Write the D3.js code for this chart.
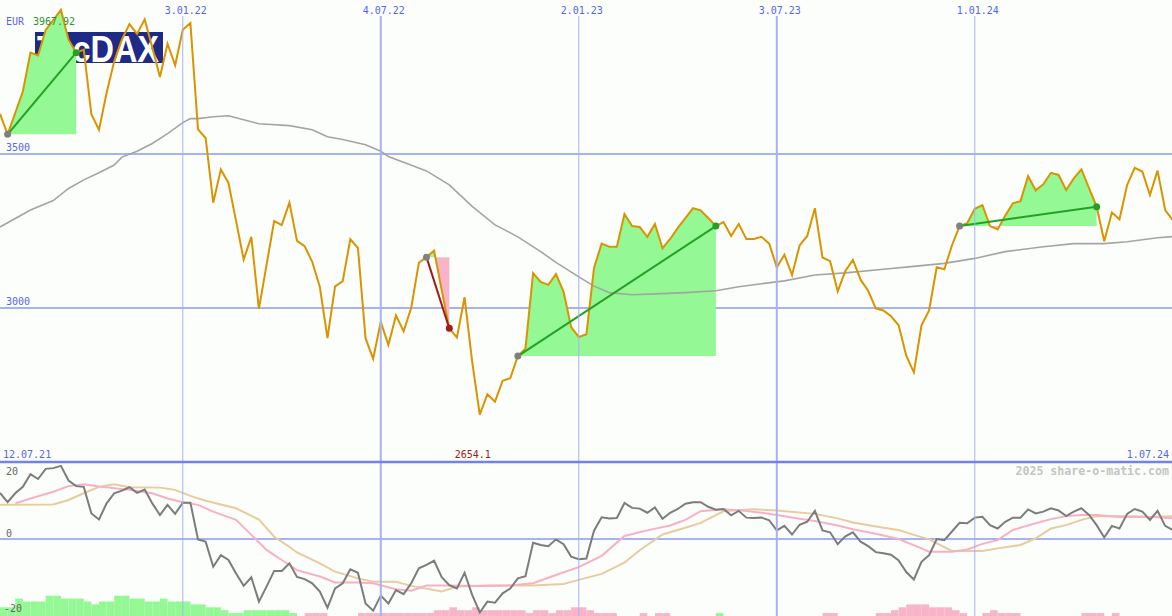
<!DOCTYPE html>
<html><head><meta charset="utf-8">
<script src="https://cdn.jsdelivr.net/npm/d3@7"></script>
<style>html,body{margin:0;padding:0;background:#fcfefc;} svg{display:block;}</style>
</head><body><svg id="c" width="1172" height="616"></svg>
<script>
// ---------- data ----------
const startDate = "2021-07-19";   // first weekly point
const endDate = "2024-07-01";
const price = [3630,3564,3633,3703,3829,3820,3903,3935,3967.92,3871,
 3829,3839,3629,3578,3699,3801,3871,3922,3890,3937,
 3846,3750,3858,3788,3903,3925,3580,3552,3342,3450,
 3406,3282,3157,3231,2997,3140,3282,3269,3342,3218,
 3201,3150,3068,2902,3070,3087,3223,3195,2902,2835,
 2955,2880,2976,2924,3001,3147,3165,3186,3058,2934,
 2904,3035,2826,2654.1,2720,2696,2764,2772,2844,2869,
 3113,3085,3075,3110,3053,2938,2906,2915,3130,3209,
 3199,3199,3305,3266,3263,3231,3273,3194,3224,3260,
 3292,3324,3317,3292,3266,3279,3234,3273,3224,3224,
 3231,3209,3132,3173,3107,3203,3234,3324,3164,3152,
 3054,3120,3156,3092,3056,2999,2992,2973,2944,2845,
 2791,2944,2992,3132,3126,3203,3266,3275,3322,3334,
 3266,3255,3300,3340,3347,3428,3382,3402,3439,3432,
 3383,3421,3450,3389,3329,3217,3310,3288,3399,3455,
 3443,3367,3446,3318,3285];
const maWeeks = [0,4,7,9,11,13,15,16,18,20,22,24,25,26,28,30,32,34,38,41,43,45,48,50,51,56,59,62,65,68,71,73,76,78,80,83,86,90,94,97,100,103,107,111,116,120,124,128,132,137,141,145,148,152,154];
const maValues = [3263,3318,3349,3388,3416,3439,3464,3490,3509,3534,3566,3602,3615,3615,3621,3624,3611,3598,3592,3579,3556,3547,3530,3509,3492,3445,3400,3330,3270,3231,3183,3148,3101,3071,3050,3043,3046,3050,3056,3069,3079,3088,3107,3114,3126,3135,3145,3161,3183,3199,3209,3209,3215,3228,3232];
const oscValues = [12.3,9.8,12.2,13.9,17.3,16.0,18.7,18.9,19.5,15.6,
 14.1,13.9,6.8,5.2,9.5,12.2,12.9,13.8,12.3,13.2,
 9.5,6.4,9.1,6.7,9.7,9.7,-0.1,-0.7,-7.4,-4.3,
 -5.6,-9.2,-12.5,-10.2,-16.7,-12.7,-8.5,-8.5,-6.5,-10.1,
 -10.7,-11.8,-14.0,-18.3,-13.2,-11.8,-8.1,-9.0,-17.2,-19.1,
 -15.1,-17.2,-13.6,-14.7,-11.8,-7.8,-6.9,-5.8,-10.2,-12.3,
 -13.2,-9.0,-14.9,-19.6,-16.7,-17.0,-14.5,-13.2,-10.5,-9.9,
 -1.0,-1.6,-1.9,-0.1,-1.4,-4.7,-5.4,-5.2,2.2,5.8,
 5.5,5.6,9.6,8.3,8.1,7.0,8.4,5.4,7.0,8.0,
 9.4,9.8,9.8,8.6,7.8,8.0,6.3,7.5,5.7,5.6,
 5.7,5.0,2.3,3.5,1.2,3.8,4.6,7.5,2.3,1.8,
 -1.4,0.7,1.8,-0.7,-1.9,-3.5,-3.8,-4.2,-5.7,-8.8,
 -10.8,-6.1,-4.3,0.0,-0.3,2.0,4.3,4.2,5.7,5.9,
 3.7,2.8,4.6,5.7,5.7,7.9,6.8,7.3,8.2,7.6,
 6.1,7.3,8.2,6.4,3.7,0.4,3.5,2.8,6.7,8.0,
 7.3,5.1,7.5,3.5,2.4];
const pinkWeeks = [2,4,7,9,11,13,17,20,22,24,26,28,31,33,35,37,39,42,44,47,49,52,54,56,59,63,67,70,73,76,79,82,85,88,90,92,95,97,100,102,105,107,110,112,115,118,121,122,125,127,129,131,133,136,138,140,142,144,147,151,154];
const pinkValues = [9.5,10.8,12.6,14.1,14.6,14.0,13.1,12.2,10.8,9.8,9.1,7.3,5.1,1.1,-2.9,-5.6,-8.3,-10.0,-11.6,-11.6,-11.8,-13.4,-13.8,-12.4,-12.4,-12.5,-12.4,-11.8,-9.6,-7.5,-4.5,0.8,2.3,3.6,5.1,7.4,7.9,7.7,7.0,6.4,5.4,4.8,3.6,2.6,1.4,0.0,-2.5,-3.4,-3.4,-2.8,-1.3,-0.3,2.4,4.2,5.3,6.1,6.4,6.4,5.9,5.9,5.5];
const tanWeeks = [0,7,9,11,13,15,17,21,23,25,27,31,34,36,38,39,42,44,47,49,52,54,58,60,64,70,74,76,79,82,84,87,90,92,95,97,99,102,107,110,112,116,118,120,122,125,129,131,134,136,138,140,142,144,147,149,151,154];
const tanValues = [9.1,9.2,10.4,12.2,13.9,14.6,13.8,13.7,13.1,11.5,10.2,8.2,5.2,0.6,-2.1,-3.6,-6.5,-8.7,-10.5,-11.4,-11.4,-12.5,-14.0,-12.7,-12.4,-12.4,-12.0,-10.9,-9.3,-6.3,-3.0,1.2,3.0,4.3,7.4,7.7,7.9,7.6,6.7,5.5,4.4,3.0,2.4,1.1,-0.1,-3.2,-3.2,-2.5,-1.6,0.2,2.8,3.7,5.1,6.1,6.1,6.1,5.9,6.1];
const barValues = [3,3,6,5,5,5,7,7,6,6, 6,5,4,5,5,7,7,6,6,5, 5,6,5,5,5,4,4,3,3,2,
 1,1,2,2,2,2,2,2,1,0, -1,-1,-1,0,0,0,0,-1,-1,-1, -1,-1,-1,-1,-1,-1,-1,-2,-2,-3,
 -2,-2,-3,-2,-2,-2,-2,-2,-2,-1, -2,-2,-1,-2,-2,-3,-3,-2,-1,-1, -1,0,0,0,-1,0,-1,-1,0,0,
 0,0,0,0,1,0,0,0,0,0, 0,0,0,0,0,0,0,0,-1,-1, 0,0,0,0,0,-1,-1,-2,-3,-4,
 -4,-4,-3,-3,-3,-2,-1,0,0,-1, -2,-1,-1,-1,0,0,0,0,0,0, 0,0,-1,-1,-1,0,-1,0,0,0, 0,0,0,0,0];
const dateTickLabels = ["3.01.22","4.07.22","2.01.23","3.07.23","1.01.24"];
const dateTickDates = ["2022-01-03","2022-07-04","2023-01-02","2023-07-03","2024-01-01"];
const dateTickMajor = [false,true,false,true,false];
const priceTicks = [3500,3000];
const oscTicks = [20,0,-20];
const trendStart = ["2021-07-26","2022-08-15","2022-11-07","2023-12-18"];
const trendEnd   = ["2021-09-27","2022-09-05","2023-05-08","2024-04-22"];
const rangeLabels = ["12.07.21","1.07.24"];
const currency = "EUR";
const logoText = "TecDAX";
const credit = "2025 share-o-matic.com";

// ---------- setup ----------
const W = 1172, H = 616, mainBottom = 462;
const parse = d3.utcParse("%Y-%m-%d");
const t0 = parse(startDate);
const dates = price.map((_, i) => d3.utcDay.offset(t0, 7 * i));
const wk = w => d3.utcDay.offset(t0, 7 * w);
const x = d3.scaleUtc().domain([t0, parse(endDate)]).range([0, 1172.8]);
const y = d3.scaleLinear().domain([2500, 4000]).range([mainBottom, 0]);
const yo = d3.scaleLinear().domain([-20, 20]).range([614, 464]);
const hb = d3.scaleLinear().domain([0, 10]).range([0, 29]);
const mono = '"DejaVu Sans Mono", monospace';
const blue = "#5566ee";

const svg = d3.select("#c");
svg.append("rect").attr("width", W).attr("height", H).attr("fill", "#fcfefc");
const defs = svg.append("defs");
defs.append("clipPath").attr("id", "mainClip").append("rect").attr("x", 0).attr("y", 0).attr("width", W).attr("height", mainBottom);
defs.append("clipPath").attr("id", "oscClip").append("rect").attr("x", 0).attr("y", mainBottom + 1).attr("width", W).attr("height", H - mainBottom - 1);

// logo
const logo = svg.append("g");
logo.append("rect").attr("x", 35).attr("y", 32).attr("width", 128).attr("height", 31).attr("fill", "#1e2a86");
logo.append("text").attr("x", 37).attr("y", 61.5).text(logoText)
  .attr("font-family", '"Liberation Sans", Arial, sans-serif').attr("font-weight", "bold")
  .attr("font-size", 36).attr("fill", "#ffffff").attr("textLength", 122).attr("lengthAdjust", "spacingAndGlyphs");

// horizontal grid
svg.selectAll(".hg").data(priceTicks).join("line")
  .attr("x1", 0).attr("x2", W).attr("y1", d => y(d)).attr("y2", d => y(d))
  .attr("stroke", "#a6b2f2").attr("stroke-width", 2);
svg.append("line").attr("x1", 0).attr("x2", W).attr("y1", yo(0)).attr("y2", yo(0))
  .attr("stroke", "#a6b2f2").attr("stroke-width", 2);

// oscillator bars
const og = svg.append("g").attr("clip-path", "url(#oscClip)");
og.selectAll(".bar").data(barValues.map((v, i) => ({v, i})).filter(d => d.v !== 0)).join("rect")
  .attr("x", d => x(dates[d.i]))
  .attr("width", d => x(wk(d.i + 1)) - x(dates[d.i]))
  .attr("y", d => H - hb(Math.abs(d.v)))
  .attr("height", d => hb(Math.abs(d.v)))
  .attr("fill", d => d.v > 0 ? "#94f894" : "#f8b4c8");

// trend fills
const mg = svg.append("g").attr("clip-path", "url(#mainClip)");
const idxOf = s => dates.findIndex(d => +d === +parse(s));
const trends = trendStart.map((s, k) => {
  const a = idxOf(s), b = idxOf(trendEnd[k]);
  return {a, b, base: price[a], up: price[b] >= price[a]};
});
trends.forEach((t, k) => {
  const by = y(t.base);
  defs.append("clipPath").attr("id", "above" + k).append("rect").attr("x", 0).attr("y", 0).attr("width", W).attr("height", by);
  defs.append("clipPath").attr("id", "below" + k).append("rect").attr("x", 0).attr("y", by).attr("width", W).attr("height", mainBottom - by);
  const pts = d3.range(t.a, t.b + 1).map(i => ({d: dates[i], v: price[i]}));
  const ar = d3.area().x(p => x(p.d)).y0(by).y1(p => y(p.v));
  mg.append("path").attr("d", ar(pts)).attr("fill", "#94f894").attr("clip-path", `url(#above${k})`);
  mg.append("path").attr("d", ar(pts)).attr("fill", "#f8b4c8").attr("clip-path", `url(#below${k})`);
});

// vertical grid
svg.selectAll(".vg").data(dateTickDates).join("line")
  .attr("x1", d => x(parse(d))).attr("x2", d => x(parse(d)))
  .attr("y1", 16).attr("y2", H)
  .attr("stroke", "#a6b2f2").attr("stroke-width", (d, i) => dateTickMajor[i] ? 2 : 1);

// separator
svg.append("line").attr("x1", 0).attr("x2", W).attr("y1", mainBottom).attr("y2", mainBottom)
  .attr("stroke", "#7282ea").attr("stroke-width", 2.5);

// moving average + price
const maLine = d3.line().x((w, i) => x(wk(w))).y((w, i) => y(maValues[i]));
mg.append("path").attr("d", maLine(maWeeks)).attr("fill", "none").attr("stroke", "#a4a4a4").attr("stroke-width", 1.6);
const pLine = d3.line().x((v, i) => x(dates[i])).y(v => y(v));
mg.append("path").attr("d", pLine(price)).attr("fill", "none").attr("stroke", "#d99400").attr("stroke-width", 2).attr("stroke-linejoin", "miter");

// trend lines & dots
trends.forEach(t => {
  const col = t.up ? "#24a024" : "#a01c1c";
  mg.append("line").attr("x1", x(dates[t.a])).attr("y1", y(price[t.a])).attr("x2", x(dates[t.b])).attr("y2", y(price[t.b]))
    .attr("stroke", col).attr("stroke-width", 2);
  mg.append("circle").attr("cx", x(dates[t.a])).attr("cy", y(price[t.a])).attr("r", 3.5).attr("fill", "#808080");
  mg.append("circle").attr("cx", x(dates[t.b])).attr("cy", y(price[t.b])).attr("r", 3.5).attr("fill", col);
});

// oscillator lines
const sl = (ws, vs) => d3.line().x((w) => x(wk(w))).y((w, i) => yo(vs[i]))(ws);
og.append("path").attr("d", sl(tanWeeks, tanValues)).attr("fill", "none").attr("stroke", "#e6cc9e").attr("stroke-width", 2);
og.append("path").attr("d", sl(pinkWeeks, pinkValues)).attr("fill", "none").attr("stroke", "#f8b0c4").attr("stroke-width", 2);
og.append("path").attr("d", d3.line().x((v, i) => x(dates[i])).y(v => yo(v))(oscValues))
  .attr("fill", "none").attr("stroke", "#7c7c7c").attr("stroke-width", 2);

// ---------- text ----------
const txt = (s, xx, yy, col, anchor = "start", size = 10, weight = "normal") =>
  svg.append("text").attr("x", xx).attr("y", yy).text(s).attr("fill", col)
    .attr("font-family", mono).attr("font-size", size).attr("font-weight", weight).attr("text-anchor", anchor);

dateTickLabels.forEach((s, i) => txt(s, x(parse(dateTickDates[i])) + 3, 14, blue, "middle"));
priceTicks.forEach(v => txt(String(v), 6, y(v) - 3, blue));
oscTicks.forEach(v => {
  let yy = yo(v) - 2;
  if (yy < mainBottom + 12) yy = mainBottom + 13;
  txt(String(v), v < 0 ? 4 : 6, yy, "#666666");
});
txt(rangeLabels[0], 3, 457.5, blue);
txt(rangeLabels[1], 1169, 457.5, blue, "end");
txt(credit, 1169, 475, "#c4c4c4", "end", 11.6, "bold");
const iMax = d3.maxIndex(price), iMin = d3.minIndex(price);
txt(currency, 6, 25, blue);
txt(d3.format(".2f")(price[iMax]), 33, 25, "#2e942e");
txt(d3.format(".1f")(price[iMin]), x(dates[iMin]) - 7, 457.5, "#a01c1c", "middle");
</script></body></html>
